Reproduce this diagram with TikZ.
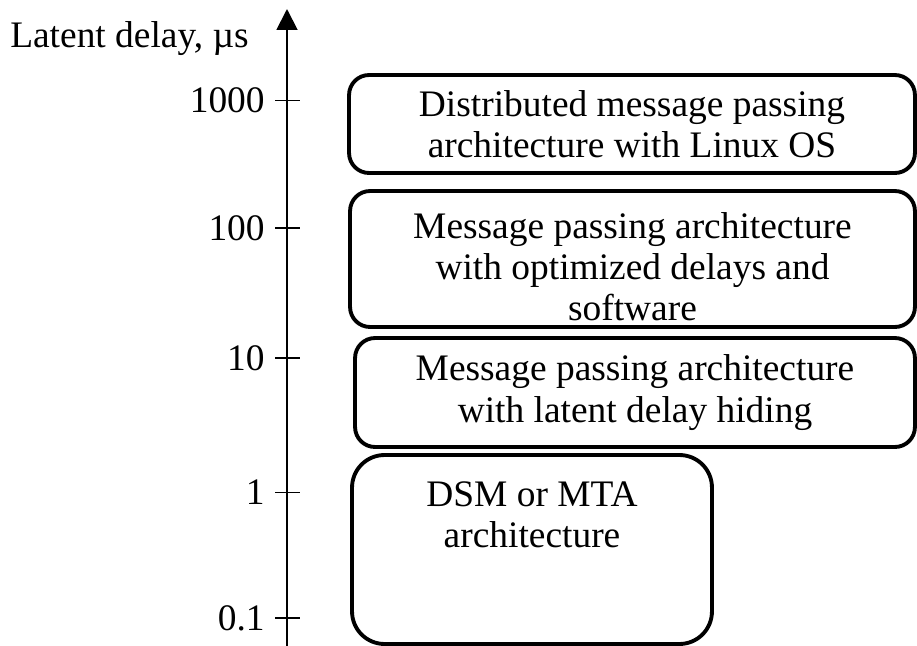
\documentclass[tikz,border=0pt]{standalone}
\usepackage{fontspec}
\setmainfont{Liberation Serif}
\usetikzlibrary{
    positioning,
    arrows.meta
    }

\begin{document}
\begin{tikzpicture}[x=0.02cm, y=-0.02cm]
\tikzset{axisline/.style =
        {
            line width=1.1pt,
            black
        }
}

\tikzset{ticklabel/.style =
        {
            inner sep=0pt,
            font=\fontsize{21.3pt}{23.4pt}\selectfont
        }
}

\tikzset{archbox/.style =
        {
            shape=rectangle,
            rounded corners=0.4cm,
            line width=2.2pt,
            align=center,
            inner sep=0pt,
            font=\fontsize{21.3pt}{23.4pt}\selectfont,
            draw
        }
}

\tikzset{bigbox/.style =
        {
            archbox,
            rounded corners=0.65cm
        }
}
		\useasboundingbox (0,0) rectangle (917,646);

		% axis
		\coordinate (axisbot) at (287,646);
		\coordinate (axistop) at (287,9);
		\draw[axisline, -{Triangle[length=0.42cm, width=0.42cm]}] (axisbot) -- (axistop);
		\node[ticklabel, anchor=base east] (ylabel) at (249,47) {Latent delay, µs};

		\foreach \n / \val / \y in
			{1/1000/100.5,
				2/100/228,
				3/10/358,
				4/1/492.5,
				5/0.1/618}
		{
			\coordinate (tl\n) at (275,\y);
			\coordinate (tr\n) at (300,\y);
			\draw[axisline] (tl\n) -- (tr\n);
			\node[ticklabel, left=0.2cm of tl\n] (lab\n) {\val};
		}

		% architectures
		\node[archbox, minimum width=11.32cm, minimum height=1.96cm] (dist) at (632,124)
			{Distributed message passing\\architecture with Linux OS};
		\node[archbox, minimum width=11.3cm, minimum height=2.72cm] (opt) at (632.5,259) {};
		\node[ticklabel, align=center] (opttext) at ([yshift=-0.16cm]opt.center)
			{Message passing architecture\\with optimized delays and\\software};
		\node[archbox, minimum width=11.2cm, minimum height=2.18cm] (hide) at (635,392.5)
			{Message passing architecture\\with latent delay hiding};
		\node[bigbox, minimum width=7.2cm, minimum height=3.78cm] (dsm) at (532,549.5) {};
		\node[ticklabel, align=center, below=0.57cm of dsm.north] (dsmtext)
			{DSM or MTA\\architecture};

	\end{tikzpicture}
\end{document}
